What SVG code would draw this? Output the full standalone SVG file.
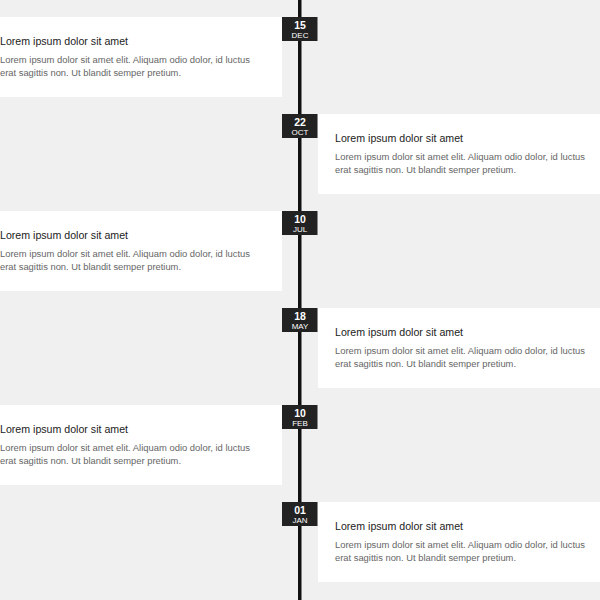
<svg xmlns="http://www.w3.org/2000/svg" width="600" height="600" viewBox="0 0 600 600">
<style>
.card{fill:#ffffff}
.title{font-family:"Liberation Sans",Arial,sans-serif;font-size:10.8px;fill:#222222}
.body{font-family:"Liberation Sans",Arial,sans-serif;font-size:9.6px;fill:#666666}
.badge{fill:#222222}
.day{font-family:"Liberation Sans",Arial,sans-serif;font-size:10.5px;font-weight:bold;fill:#ffffff;text-anchor:middle}
.mon{font-family:"Liberation Sans",Arial,sans-serif;font-size:8px;fill:#ffffff;text-anchor:middle}
</style>
<rect x="0" y="0" width="600" height="600" fill="#f0f0f0"/>
<g id="connectors">
<rect x="298" y="0" width="3.5" height="600" fill="#111111"/>
</g>
<g id="item1">
<rect class="card" x="0" y="17" width="282" height="80"/>
<text class="title" x="0" y="45" textLength="128" lengthAdjust="spacingAndGlyphs">Lorem ipsum dolor sit amet</text>
<text class="body" x="0" y="63" textLength="250" lengthAdjust="spacingAndGlyphs">Lorem ipsum dolor sit amet elit. Aliquam odio dolor, id luctus</text>
<text class="body" x="0" y="76" textLength="181" lengthAdjust="spacingAndGlyphs">erat sagittis non. Ut blandit semper pretium.</text>
<rect class="badge" x="282" y="17" width="35.5" height="24"/>
<text class="day" x="300" y="29">15</text>
<text class="mon" x="300" y="37.5">DEC</text>
</g>
<g id="item2">
<rect class="card" x="318" y="114" width="282" height="80"/>
<text class="title" x="335" y="142" textLength="128" lengthAdjust="spacingAndGlyphs">Lorem ipsum dolor sit amet</text>
<text class="body" x="335" y="160" textLength="250" lengthAdjust="spacingAndGlyphs">Lorem ipsum dolor sit amet elit. Aliquam odio dolor, id luctus</text>
<text class="body" x="335" y="173" textLength="181" lengthAdjust="spacingAndGlyphs">erat sagittis non. Ut blandit semper pretium.</text>
<rect class="badge" x="282" y="114" width="35.5" height="24"/>
<text class="day" x="300" y="126">22</text>
<text class="mon" x="300" y="134.5">OCT</text>
</g>
<g id="item3">
<rect class="card" x="0" y="211" width="282" height="80"/>
<text class="title" x="0" y="239" textLength="128" lengthAdjust="spacingAndGlyphs">Lorem ipsum dolor sit amet</text>
<text class="body" x="0" y="257" textLength="250" lengthAdjust="spacingAndGlyphs">Lorem ipsum dolor sit amet elit. Aliquam odio dolor, id luctus</text>
<text class="body" x="0" y="270" textLength="181" lengthAdjust="spacingAndGlyphs">erat sagittis non. Ut blandit semper pretium.</text>
<rect class="badge" x="282" y="211" width="35.5" height="24"/>
<text class="day" x="300" y="223">10</text>
<text class="mon" x="300" y="231.5">JUL</text>
</g>
<g id="item4">
<rect class="card" x="318" y="308" width="282" height="80"/>
<text class="title" x="335" y="336" textLength="128" lengthAdjust="spacingAndGlyphs">Lorem ipsum dolor sit amet</text>
<text class="body" x="335" y="354" textLength="250" lengthAdjust="spacingAndGlyphs">Lorem ipsum dolor sit amet elit. Aliquam odio dolor, id luctus</text>
<text class="body" x="335" y="367" textLength="181" lengthAdjust="spacingAndGlyphs">erat sagittis non. Ut blandit semper pretium.</text>
<rect class="badge" x="282" y="308" width="35.5" height="24"/>
<text class="day" x="300" y="320">18</text>
<text class="mon" x="300" y="328.5">MAY</text>
</g>
<g id="item5">
<rect class="card" x="0" y="405" width="282" height="80"/>
<text class="title" x="0" y="433" textLength="128" lengthAdjust="spacingAndGlyphs">Lorem ipsum dolor sit amet</text>
<text class="body" x="0" y="451" textLength="250" lengthAdjust="spacingAndGlyphs">Lorem ipsum dolor sit amet elit. Aliquam odio dolor, id luctus</text>
<text class="body" x="0" y="464" textLength="181" lengthAdjust="spacingAndGlyphs">erat sagittis non. Ut blandit semper pretium.</text>
<rect class="badge" x="282" y="405" width="35.5" height="24"/>
<text class="day" x="300" y="417">10</text>
<text class="mon" x="300" y="425.5">FEB</text>
</g>
<g id="item6">
<rect class="card" x="318" y="502" width="282" height="80"/>
<text class="title" x="335" y="530" textLength="128" lengthAdjust="spacingAndGlyphs">Lorem ipsum dolor sit amet</text>
<text class="body" x="335" y="548" textLength="250" lengthAdjust="spacingAndGlyphs">Lorem ipsum dolor sit amet elit. Aliquam odio dolor, id luctus</text>
<text class="body" x="335" y="561" textLength="181" lengthAdjust="spacingAndGlyphs">erat sagittis non. Ut blandit semper pretium.</text>
<rect class="badge" x="282" y="502" width="35.5" height="24"/>
<text class="day" x="300" y="514">01</text>
<text class="mon" x="300" y="522.5">JAN</text>
</g>
</svg>
